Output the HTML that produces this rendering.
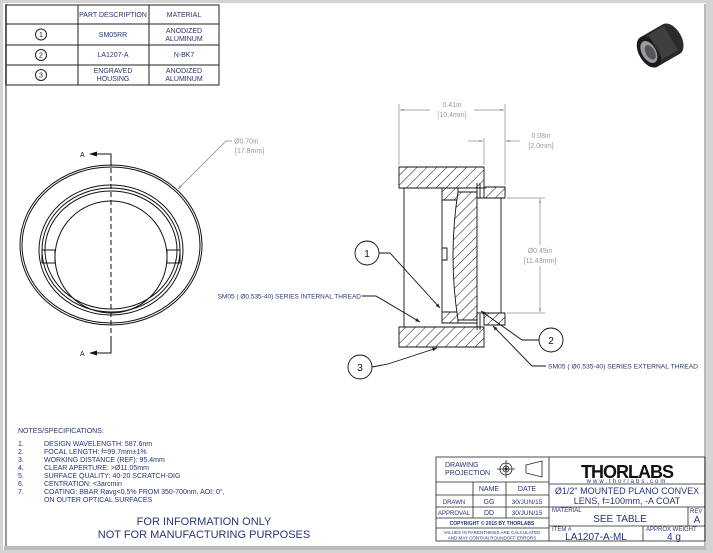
<!DOCTYPE html>
<html><head><meta charset="utf-8"><style>
body{margin:0;background:#d4d4d4;width:713px;height:553px;overflow:hidden}
svg{display:block}
text{font-family:"Liberation Sans",sans-serif}
</style></head><body>
<svg width="713" height="553" viewBox="0 0 713 553" xmlns="http://www.w3.org/2000/svg">
<defs>
<pattern id="h" patternUnits="userSpaceOnUse" width="7" height="7" patternTransform="rotate(45)">
<rect width="7" height="7" fill="#fff"/><line x1="0" y1="0" x2="0" y2="7" stroke="#111" stroke-width="1"/>
</pattern>
<marker id="ar" viewBox="0 0 10 10" refX="10" refY="5" markerWidth="7" markerHeight="5" orient="auto-start-reverse"><path d="M0,1 L10,5 L0,9z" fill="#222"/></marker>
<marker id="ag" viewBox="0 0 10 10" refX="10" refY="5" markerWidth="7" markerHeight="5" orient="auto-start-reverse"><path d="M0,2 L10,5 L0,8z" fill="#888"/></marker>
</defs>
<rect x="3" y="3" width="703" height="547" fill="#fff"/>
<line x1="6" y1="4" x2="6" y2="548" stroke="#999" stroke-width="2"/>
<rect x="4" y="546" width="702" height="4" fill="#bbb"/>
<line x1="705" y1="4" x2="705" y2="548" stroke="#bbb" stroke-width="2"/>

<!-- parts table -->
<g stroke="#222" stroke-width="1" fill="none">
<rect x="6" y="5" width="213" height="80"/>
<line x1="6" y1="24" x2="219" y2="24"/><line x1="6" y1="45" x2="219" y2="45"/><line x1="6" y1="65" x2="219" y2="65"/>
<line x1="78" y1="5" x2="78" y2="85"/><line x1="149" y1="5" x2="149" y2="85"/>
<circle cx="41" cy="34.5" r="5.5"/><circle cx="41" cy="55" r="5.5"/><circle cx="41" cy="75" r="5.5"/>
</g>
<g font-size="7" fill="#2a3570" text-anchor="middle">
<text x="113" y="17">PART DESCRIPTION</text><text x="184" y="17">MATERIAL</text>
<text x="113" y="37">SM05RR</text><text x="184" y="33">ANODIZED</text><text x="184" y="41">ALUMINUM</text>
<text x="113" y="57">LA1207-A</text><text x="184" y="57">N-BK7</text>
<text x="113" y="73">ENGRAVED</text><text x="113" y="81">HOUSING</text><text x="184" y="73">ANODIZED</text><text x="184" y="81">ALUMINUM</text>
<text x="41" y="37" fill="#111" font-size="7">1</text><text x="41" y="57.5" fill="#111" font-size="7">2</text><text x="41" y="77.5" fill="#111" font-size="7">3</text>
</g>

<!-- photo -->
<g transform="translate(661,45) rotate(-30)">
<path d="M-14,-17 H12 A10,17 0 0 1 12,17 H-14 Z" fill="#2a2a2a"/>
<ellipse cx="-14" cy="0" rx="10" ry="17" fill="#1a1a1a"/>
<ellipse cx="-14" cy="0" rx="7" ry="12" fill="#9a9aa2"/>
<ellipse cx="-13" cy="1" rx="4.5" ry="8" fill="#555"/>
<rect x="-6" y="-15" width="18" height="28" fill="#666" opacity=".35"/>
</g>

<!-- front view -->
<g stroke="#111" stroke-width="1" fill="none">
<ellipse cx="111" cy="245" rx="91" ry="80"/>
<ellipse cx="111" cy="245" rx="89" ry="78"/>
<ellipse cx="111" cy="250" rx="72" ry="65"/>
<ellipse cx="111" cy="250" rx="69" ry="62"/>
<ellipse cx="111" cy="250" rx="66" ry="59"/>
<ellipse cx="111" cy="257" rx="56" ry="56"/>
<rect x="42" y="250" width="13" height="13"/>
<rect x="167" y="250" width="13" height="13"/>
<line x1="111" y1="160" x2="111" y2="348" stroke-dasharray="5,3"/>
<polyline points="111,166 111,154 94,154" />
<polyline points="111,340 111,353 94,353" />
</g>
<path d="M89,154 l8,-2.5 v5z M89,353 l8,-2.5 v5z" fill="#111"/>
<g font-size="7" fill="#222"><text x="80" y="157">A</text><text x="80" y="356">A</text></g>
<line x1="226" y1="141" x2="178" y2="189" stroke="#888" stroke-width="0.8" marker-end="url(#ag)"/>
<line x1="226" y1="141" x2="232" y2="141" stroke="#888" stroke-width="0.8"/>
<g font-size="7" fill="#999"><text x="234" y="143.5">Ø0.70in</text><text x="235" y="153">[17.8mm]</text></g>

<!-- section view -->
<g stroke="#111" stroke-width="0.9">
<path d="M399,167 H484 V188 H399 Z" fill="url(#h)"/>
<path d="M399,327 H484 V347 H399 Z" fill="url(#h)"/>
<path d="M484,187 H505 V198 H484 Z" fill="url(#h)"/>
<path d="M484,313 H505 V325 H484 Z" fill="url(#h)"/>
<path d="M442,188 H458 V200 H442 Z" fill="url(#h)"/>
<path d="M442,312 H458 V323 H442 Z" fill="url(#h)"/>
<path d="M458,192 H477 V320 H458 Q448,256 458,192 Z" fill="url(#h)"/>
<g fill="none">
<line x1="404" y1="188" x2="404" y2="327"/>
<line x1="442" y1="200" x2="442" y2="312"/>
<path d="M442,248 h5 v12 h-5"/>
<line x1="458" y1="188" x2="477" y2="188"/>
<line x1="458" y1="323" x2="477" y2="323"/>
<line x1="477" y1="183" x2="477" y2="198"/><line x1="480" y1="183" x2="480" y2="198"/>
<line x1="477" y1="314" x2="477" y2="330"/><line x1="480" y1="314" x2="480" y2="330"/>
<line x1="477" y1="198" x2="505" y2="198"/><line x1="477" y1="313" x2="505" y2="313"/>
<line x1="501" y1="198" x2="501" y2="313"/>
</g>
</g>
<!-- dimensions -->
<g stroke="#888" stroke-width="0.7" fill="none">
<line x1="399" y1="104" x2="399" y2="165"/><line x1="505" y1="104" x2="505" y2="185"/>
<line x1="400" y1="110" x2="430" y2="110" marker-start="url(#ag)"/><line x1="474" y1="110" x2="504" y2="110" marker-end="url(#ag)"/>
<line x1="484" y1="138" x2="484" y2="165"/>
<line x1="468" y1="141" x2="483" y2="141" marker-end="url(#ag)"/>
<line x1="520" y1="141" x2="506" y2="141" marker-end="url(#ag)"/>
<line x1="507" y1="198" x2="545" y2="198"/><line x1="507" y1="313" x2="545" y2="313"/>
<line x1="540" y1="245" x2="540" y2="199" marker-end="url(#ag)"/><line x1="540" y1="266" x2="540" y2="312" marker-end="url(#ag)"/>
</g>
<g font-size="7" fill="#999" text-anchor="middle">
<text x="452" y="107">0.41in</text><text x="452" y="117">[10.4mm]</text>
<text x="541" y="138">0.08in</text><text x="541" y="148">[2.0mm]</text>
<text x="540" y="253">Ø0.45in</text><text x="540" y="263">[11.43mm]</text>
</g>
<!-- balloons & leaders -->
<g stroke="#111" stroke-width="0.9" fill="none">
<circle cx="367" cy="253" r="12"/><circle cx="551" cy="340" r="12"/><circle cx="360" cy="367" r="12"/>
<polyline points="379,253 390,253 440,308" marker-end="url(#ar)"/>
<polyline points="372,367 388,364 437,348" marker-end="url(#ar)"/>
<polyline points="539,340 522,340 481,311" marker-end="url(#ar)"/>
<polyline points="546,366 532,366 493,326" marker-end="url(#ar)"/>
<polyline points="362,296 376,296 420,322" marker-end="url(#ar)"/>
</g>
<g font-size="10" fill="#111" text-anchor="middle"><text x="367" y="257">1</text><text x="551" y="344">2</text><text x="360" y="371">3</text></g>
<g font-size="6.5" fill="#2a3570">
<text x="361" y="298.5" text-anchor="end">SM05 ( Ø0.535-40) SERIES INTERNAL THREAD</text>
<text x="548" y="368.5" textLength="150" lengthAdjust="spacingAndGlyphs">SM05 ( Ø0.535-40) SERIES EXTERNAL THREAD</text>
</g>

<!-- notes -->
<g font-size="7" fill="#2a3570">
<text x="18" y="433">NOTES/SPECIFICATIONS:</text>
<text x="18" y="446">1.</text><text x="44" y="446">DESIGN WAVELENGTH: 587.6nm</text>
<text x="18" y="454">2.</text><text x="44" y="454">FOCAL LENGTH: f=99.7mm±1%</text>
<text x="18" y="462">3.</text><text x="44" y="462">WORKING DISTANCE (REF): 95.4mm</text>
<text x="18" y="470">4.</text><text x="44" y="470">CLEAR APERTURE: &gt;Ø11.05mm</text>
<text x="18" y="478">5.</text><text x="44" y="478">SURFACE QUALITY: 40-20 SCRATCH-DIG</text>
<text x="18" y="486">6.</text><text x="44" y="486">CENTRATION: &lt;3arcmin</text>
<text x="18" y="494">7.</text><text x="44" y="494">COATING: BBAR Ravg&lt;0.5% FROM 350-700nm, AOI: 0°,</text>
<text x="44" y="502">ON OUTER OPTICAL SURFACES</text>
</g>
<g font-size="11" fill="#2a3570" text-anchor="middle"><text x="204" y="525">FOR INFORMATION ONLY</text><text x="204" y="538">NOT FOR MANUFACTURING PURPOSES</text></g>

<!-- title block -->
<g stroke="#222" stroke-width="0.8" fill="none">
<rect x="436" y="457" width="269" height="84"/>
<line x1="549" y1="457" x2="549" y2="541"/>
<line x1="436" y1="482" x2="549" y2="482"/><line x1="436" y1="495" x2="549" y2="495"/>
<line x1="436" y1="507" x2="549" y2="507"/><line x1="436" y1="518" x2="549" y2="518"/><line x1="436" y1="528" x2="549" y2="528"/>
<line x1="473" y1="482" x2="473" y2="518"/><line x1="506" y1="482" x2="506" y2="518"/>
<line x1="549" y1="484" x2="705" y2="484"/><line x1="549" y1="507" x2="705" y2="507"/><line x1="549" y1="526" x2="705" y2="526"/>
<line x1="688" y1="507" x2="688" y2="526"/><line x1="643" y1="526" x2="643" y2="541"/>
<circle cx="506" cy="469" r="6"/><circle cx="506" cy="469" r="3"/>
<line x1="497" y1="469" x2="515" y2="469"/><line x1="506" y1="460" x2="506" y2="478"/>
<path d="M526,465 L542,461 V477 L526,473 Z"/>
</g>
<circle cx="506" cy="469" r="1.5" fill="#222"/>
<g font-size="7" fill="#2a3570">
<text x="445" y="467">DRAWING</text><text x="445" y="475">PROJECTION</text>
<text x="489" y="491" text-anchor="middle">NAME</text><text x="527" y="491" text-anchor="middle">DATE</text>
<text x="454" y="504" text-anchor="middle" font-size="6">DRAWN</text><text x="489" y="504" text-anchor="middle">GG</text><text x="527" y="504" text-anchor="middle" font-size="6.5">30/JUN/15</text>
<text x="454" y="515" text-anchor="middle" font-size="6">APPROVAL</text><text x="489" y="515" text-anchor="middle">DD</text><text x="527" y="515" text-anchor="middle" font-size="6.5">30/JUN/15</text>
<text x="492" y="525" text-anchor="middle" font-size="5" font-weight="bold">COPYRIGHT © 2015 BY THORLABS</text>
<text x="492" y="534" text-anchor="middle" font-size="4.5">VALUES IN PARENTHESIS ARE CALCULATED</text>
<text x="492" y="539.5" text-anchor="middle" font-size="4.5">AND MAY CONTAIN ROUNDOFF ERRORS</text>
<text x="627" y="478" text-anchor="middle" font-size="18" font-weight="bold" fill="#111" letter-spacing="-1">THORLABS</text>
<text x="627" y="483" text-anchor="middle" font-size="6" letter-spacing="2">www.thorlabs.com</text>
<text x="627" y="494" text-anchor="middle" font-size="9">Ø1/2" MOUNTED PLANO CONVEX</text>
<text x="627" y="504" text-anchor="middle" font-size="9">LENS, f=100mm, -A COAT</text>
<text x="552" y="512" font-size="6">MATERIAL</text>
<text x="620" y="522" text-anchor="middle" font-size="10">SEE TABLE</text>
<text x="690" y="513" font-size="6">REV</text><text x="697" y="523" text-anchor="middle" font-size="10">A</text>
<text x="552" y="531" font-size="6">ITEM #</text>
<text x="596" y="540" text-anchor="middle" font-size="10">LA1207-A-ML</text>
<text x="646" y="531" font-size="6">APPROX WEIGHT</text>
<text x="674" y="540" text-anchor="middle" font-size="10">4 g</text>
</g>
</svg>
</body></html>
